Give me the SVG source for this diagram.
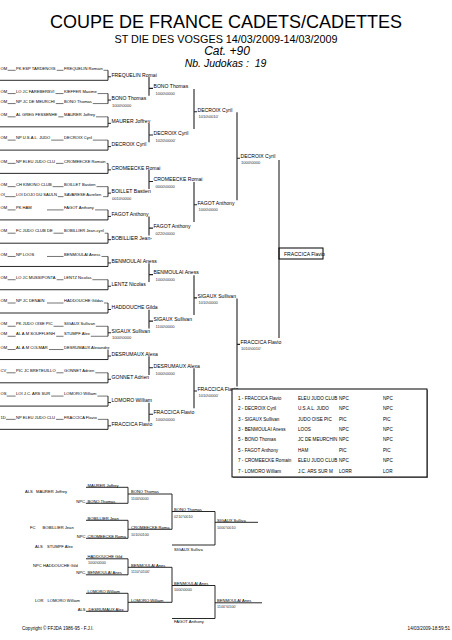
<svg xmlns="http://www.w3.org/2000/svg" width="452" height="640" viewBox="0 0 452 640">
<style>
text{font-family:'Liberation Sans',Arial,sans-serif;fill:#000}
.h1{font-size:18px}
.h2{font-size:10.8px}
.h3{font-style:italic;font-size:12px}
.h4{font-style:italic;font-size:10.5px}
.e{font-size:4.1px}
.w{font-size:5.1px}
.sc{font-size:4.1px;fill:#333}
.c{font-size:4.1px}
.cs{font-size:3.8px;fill:#333}
.t{font-size:4.6px}
.f{font-size:4.6px}
.u{stroke:#000;stroke-width:.55;fill:none}
.k{stroke:#111;stroke-width:.9;fill:none}
.v{stroke:#222;stroke-width:1.1;fill:none}
.bx{stroke:#000;stroke-width:1;fill:none}
</style>
<rect width="452" height="640" fill="#fff"/>
<g id="header" text-anchor="middle">
<text class="h1" x="226" y="28">COUPE DE FRANCE CADETS/CADETTES</text>
<text class="h2" x="226" y="42.5">ST DIE DES VOSGES 14/03/2009-14/03/2009</text>
<text class="h3" x="227" y="55.3">Cat. +90</text>
<text class="h4" x="225.5" y="66.8">Nb. Judokas :&#160; 19</text>
</g>

<g id="connectors">
<g id="r1-lines">
<g transform="translate(0,68)"><path class="u" d="M7.6 2.3H15.6M56.7 2.3H63.5M103.5 2.3H108"/><path class="k" d="M0 12.3H108V2.3M108 8.8H111"/></g>
<g transform="translate(0,91.27)"><path class="u" d="M7.6 2.3H15.6M55.5 2.3H63.5M97.6 2.3H108M7.6 12.3H15.6M55.8 12.3H63.5M92.8 12.3H108"/><path class="k" d="M108 2.3V12.3M108 8.8H111"/></g>
<g transform="translate(0,114.54)"><path class="u" d="M7.6 2.3H15.6M58.3 2.3H63.5M96 2.3H108"/><path class="k" d="M0 12.3H108V2.3M108 8.8H111"/></g>
<g transform="translate(0,137.81)"><path class="u" d="M7.6 2.3H15.6M51.2 2.3H63.5M92.8 2.3H108"/><path class="k" d="M0 12.3H108V2.3M108 8.8H111"/></g>
<g transform="translate(0,161.08)"><path class="u" d="M7.6 2.3H15.6M56 2.3H63.5M106.5 2.3H108"/><path class="k" d="M0 12.3H108V2.3M108 8.8H111"/></g>
<g transform="translate(0,184.35)"><path class="u" d="M7.6 2.3H15.6M52.6 2.3H63.5M96.5 2.3H108M5.1 12.3H15.6M57.8 12.3H63.5M103.1 12.3H108"/><path class="k" d="M108 2.3V12.3M108 8.8H111"/></g>
<g transform="translate(0,207.62)"><path class="u" d="M7.6 2.3H15.6M47 2.3H63.5M95.1 2.3H108"/><path class="k" d="M0 12.3H108V2.3M108 8.8H111"/></g>
<g transform="translate(0,230.89)"><path class="u" d="M7.6 2.3H15.6M53.5 2.3H63.5M104.7 2.3H108"/><path class="k" d="M0 12.3H108V2.3M108 8.8H111"/></g>
<g transform="translate(0,254.16)"><path class="u" d="M7.6 2.3H15.6M47 2.3H63.5M101.5 2.3H108"/><path class="k" d="M0 12.3H108V2.3M108 8.8H111"/></g>
<g transform="translate(0,277.43)"><path class="u" d="M7.6 2.3H15.6M56.7 2.3H63.5M92.4 2.3H108"/><path class="k" d="M0 12.3H108V2.3M108 8.8H111"/></g>
<g transform="translate(0,300.7)"><path class="u" d="M7.6 2.3H15.6M47 2.3H63.5M104 2.3H108"/><path class="k" d="M0 12.3H108V2.3M108 8.8H111"/></g>
<g transform="translate(0,323.97)"><path class="u" d="M7.6 2.3H15.6M53.5 2.3H63.5M95.8 2.3H108M7.6 12.3H15.6M56.2 12.3H63.5M90.8 12.3H108"/><path class="k" d="M108 2.3V12.3M108 8.8H111"/></g>
<g transform="translate(0,347.24)"><path class="u" d="M7.6 2.3H15.6M48.9 2.3H63.5"/><path class="k" d="M0 12.3H108V2.3M108 8.8H111"/></g>
<g transform="translate(0,370.51)"><path class="u" d="M6.5 2.3H15.6M56.4 2.3H63.5M95.3 2.3H108"/><path class="k" d="M0 12.3H108V2.3M108 8.8H111"/></g>
<g transform="translate(0,393.78)"><path class="u" d="M6.7 2.3H15.6M51.2 2.3H63.5M97.4 2.3H108"/><path class="k" d="M0 12.3H108V2.3M108 8.8H111"/></g>
<g transform="translate(0,417.05)"><path class="u" d="M6 2.3H15.6M56 2.3H63.5M97.8 2.3H108"/><path class="k" d="M0 12.3H108V2.3M108 8.8H111"/></g>
</g>
<path id="r2-lines" class="v" d="M149 77V95.8M149 88.4H153M149 123.5V142.3M149 135H153M149 170.1V188.9M149 181.5H153M149 216.6V235.4M149 228.1H153M149 263.2V281.9M149 274.6H153M149 309.7V328.5M149 321.1H153M149 356.2V375M149 367.7H153M149 402.8V421.6M149 414.2H153"/>
<path id="r3-lines" class="v" d="M194 89V129M194 111.7H197M194 182.1V222.1M194 204.8H197M194 275.2V315.1M194 297.9H197M194 368.3V408.2M194 391H197"/>
<path id="r4-lines" class="v" d="M237 112.2V200.3M237 158.3H240M237 298.4V386.5M237 344.4H240"/>
<path id="r5-lines" class="v" d="M279 160V338"/>
<g id="repechage-lines">
<path class="k" d="M86 487.3H128V503.3H86M128 494H172M86 520.3H128V538.3H86M128 529.3H172M172 494V529.3M172 511.5H215M172 545H215M215 511.5V545M215 522.3H258"/>
<path class="k" d="M86 558.8H128V574.8H86M128 567.3H172M86 593.3H128V611.3H86M128 602.3H172M172 567.3V602.3M172 585.5H215M172 618.5H215M215 585.5V618.5M215 602.8H262"/>
</g>
</g>

<g id="round1-entries">
<g id="slot1" transform="translate(0,68)"><text class="e" y="1.5"><tspan x="0.5">OM</tspan><tspan x="16">PK ESP TARDENOIS</tspan><tspan x="64">FREQUELIN Romain</tspan></text></g>
<g id="slot2" transform="translate(0,91.27)"><text class="e" y="1.5"><tspan x="0.5">OM</tspan><tspan x="16">LO JC FAREBERSVI</tspan><tspan x="64">KIEFFER Maxime</tspan></text><text class="e" y="11.5"><tspan x="0.5">OM</tspan><tspan x="16">NP JC DE MEURCHI</tspan><tspan x="64">BONO Thomas</tspan></text></g>
<g id="slot3" transform="translate(0,114.54)"><text class="e" y="1.5"><tspan x="0.5">OM</tspan><tspan x="16">AL GREG FESSENHE</tspan><tspan x="64">MAURER Joffrey</tspan></text></g>
<g id="slot4" transform="translate(0,137.81)"><text class="e" y="1.5"><tspan x="0.5">OM</tspan><tspan x="16">NP U.S.A.L. JUDO</tspan><tspan x="64">DECROIX Cyril</tspan></text></g>
<g id="slot5" transform="translate(0,161.08)"><text class="e" y="1.5"><tspan x="0.5">OM</tspan><tspan x="16">NP ELEU JUDO CLU</tspan><tspan x="64">CROMEECKE Romain</tspan></text></g>
<g id="slot6" transform="translate(0,184.35)"><text class="e" y="1.5"><tspan x="0.5">OM</tspan><tspan x="16">CH KIMONO CLUB</tspan><tspan x="64">BOILLET Bastien</tspan></text><text class="e" y="11.5"><tspan x="0.5">OI</tspan><tspan x="16">LOI DOJO DU SAULN</tspan><tspan x="64">SAVARESE Aurelien</tspan></text></g>
<g id="slot7" transform="translate(0,207.62)"><text class="e" y="1.5"><tspan x="0.5">OM</tspan><tspan x="16">PK HAM</tspan><tspan x="64">FAGOT Anthony</tspan></text></g>
<g id="slot8" transform="translate(0,230.89)"><text class="e" y="1.5"><tspan x="0.5">OM</tspan><tspan x="16">FC JUDO CLUB DE</tspan><tspan x="64">BOBILLIER Jean-cyril</tspan></text></g>
<g id="slot9" transform="translate(0,254.16)"><text class="e" y="1.5"><tspan x="0.5">OM</tspan><tspan x="16">NP LOOS</tspan><tspan x="64">BENMOULAI Aness</tspan></text></g>
<g id="slot10" transform="translate(0,277.43)"><text class="e" y="1.5"><tspan x="0.5">OM</tspan><tspan x="16">LO JC MUSSIPONTA</tspan><tspan x="64">LENTZ Nicolas</tspan></text></g>
<g id="slot11" transform="translate(0,300.7)"><text class="e" y="1.5"><tspan x="0.5">OM</tspan><tspan x="16">NP JC DENAIN</tspan><tspan x="64">HADDOUCHE Gildas</tspan></text></g>
<g id="slot12" transform="translate(0,323.97)"><text class="e" y="1.5"><tspan x="0.5">OM</tspan><tspan x="16">PK JUDO OISE PIC</tspan><tspan x="64">SIGAUX Sullivan</tspan></text><text class="e" y="11.5"><tspan x="0.5">OM</tspan><tspan x="16">AL A.M SOUFFLENH</tspan><tspan x="64">STUMPF Alex</tspan></text></g>
<g id="slot13" transform="translate(0,347.24)"><text class="e" y="1.5"><tspan x="0.5">OM</tspan><tspan x="16">AL A.M COLMAR</tspan><tspan x="64">DESRUMAUX Alexandre</tspan></text></g>
<g id="slot14" transform="translate(0,370.51)"><text class="e" y="1.5"><tspan x="0.5">CV</tspan><tspan x="16">PIC JC BRETEUILLO</tspan><tspan x="64">GONNET Adrien</tspan></text></g>
<g id="slot15" transform="translate(0,393.78)"><text class="e" y="1.5"><tspan x="0.5">OS</tspan><tspan x="16">LOI J.C. ARS SUR</tspan><tspan x="64">LOMORO William</tspan></text></g>
<g id="slot16" transform="translate(0,417.05)"><text class="e" y="1.5"><tspan x="0.5">1D</tspan><tspan x="16">NP ELEU JUDO CLU</tspan><tspan x="64">FRACCICA Flavio</tspan></text></g>
</g>

<g id="round1-winners">
<g id="w1-1"><text class="w" x="111.5" y="76.6">FREQUELIN Romai</text></g>
<g id="w1-2"><text class="w" x="111.5" y="99.9">BONO Thomas</text><text class="sc" x="112" y="106.6">1000\0000</text></g>
<g id="w1-3"><text class="w" x="111.5" y="123.1">MAURER Joffrey</text></g>
<g id="w1-4"><text class="w" x="111.5" y="146.4">DECROIX Cyril</text></g>
<g id="w1-5"><text class="w" x="111.5" y="169.7">CROMEECKE Romai</text></g>
<g id="w1-6"><text class="w" x="111.5" y="193">BOILLET Bastien</text><text class="sc" x="112" y="199.7">0010\0000</text></g>
<g id="w1-7"><text class="w" x="111.5" y="216.2">FAGOT Anthony</text></g>
<g id="w1-8"><text class="w" x="111.5" y="239.5">BOBILLIER Jean-</text></g>
<g id="w1-9"><text class="w" x="111.5" y="262.8">BENMOULAI Aness</text></g>
<g id="w1-10"><text class="w" x="111.5" y="286">LENTZ Nicolas</text></g>
<g id="w1-11"><text class="w" x="111.5" y="309.3">HADDOUCHE Gilda</text></g>
<g id="w1-12"><text class="w" x="111.5" y="332.6">SIGAUX Sullivan</text><text class="sc" x="112" y="339.3">1000\0000</text></g>
<g id="w1-13"><text class="w" x="111.5" y="355.8">DESRUMAUX Alexa</text></g>
<g id="w1-14"><text class="w" x="111.5" y="379.1">GONNET Adrien</text></g>
<g id="w1-15"><text class="w" x="111.5" y="402.4">LOMORO William</text></g>
<g id="w1-16"><text class="w" x="111.5" y="425.7">FRACCICA Flavio</text></g>
</g>

<g id="round2-winners">
<g id="w2-1"><text class="w" x="153.5" y="88.2">BONO Thomas</text><text class="sc" x="155.5" y="95.2">1000\0000</text></g>
<g id="w2-2"><text class="w" x="153.5" y="134.8">DECROIX Cyril</text><text class="sc" x="155.5" y="141.8">1020\0000'</text></g>
<g id="w2-3"><text class="w" x="153.5" y="181.3">CROMEECKE Romai</text><text class="sc" x="155.5" y="188.3">0000\0000</text></g>
<g id="w2-4"><text class="w" x="153.5" y="227.9">FAGOT Anthony</text><text class="sc" x="155.5" y="234.9">0220\0000</text></g>
<g id="w2-5"><text class="w" x="153.5" y="274.4">BENMOULAI Aness</text><text class="sc" x="155.5" y="281.4">1000\0000</text></g>
<g id="w2-6"><text class="w" x="153.5" y="320.9">SIGAUX Sullivan</text><text class="sc" x="155.5" y="327.9">1100\0000</text></g>
<g id="w2-7"><text class="w" x="153.5" y="367.5">DESRUMAUX Alexa</text><text class="sc" x="155.5" y="374.5">1000\0000</text></g>
<g id="w2-8"><text class="w" x="153.5" y="414">FRACCICA Flavio</text><text class="sc" x="155.5" y="421">1000\0000</text></g>
</g>

<g id="round3-winners">
<g id="w3-1"><text class="w" x="197.5" y="111.5">DECROIX Cyril</text><text class="sc" x="198.5" y="117.7">1010\0010'</text></g>
<g id="w3-2"><text class="w" x="197.5" y="204.6">FAGOT Anthony</text><text class="sc" x="198.5" y="210.8">1000\0000</text></g>
<g id="w3-3"><text class="w" x="197.5" y="297.7">SIGAUX Sullivan</text><text class="sc" x="198.5" y="303.9">1010\0000</text></g>
<g id="w3-4"><text class="w" x="197.5" y="390.8">FRACCICA Flavio</text><text class="sc" x="198.5" y="397">1010\0000'</text></g>
</g>

<g id="round4-winners">
<g id="w4-1"><text class="w" x="240.5" y="158">DECROIX Cyril</text><text class="sc" x="241" y="164.3">1000\0000</text></g>
<g id="w4-2"><text class="w" x="240.5" y="344.2">FRACCICA Flavio</text><text class="sc" x="241" y="350.4">1010\0010'</text></g>
</g>

<g id="champion">
<rect class="bx" x="279" y="248" width="44" height="11"/>
<text class="w" x="284" y="255.8">FRACCICA Flavio</text>
</g>

<g id="results">
<rect x="233" y="390" width="195" height="88" fill="#888"/>
<rect x="232" y="389" width="195" height="88" fill="#fff" stroke="#000" stroke-width="1"/>
<text class="t" y="399.7"><tspan x="238">1 - FRACCICA Flavio</tspan><tspan x="298">ELEU JUDO CLUB</tspan><tspan x="339">NPC</tspan><tspan x="383">NPC</tspan></text>
<text class="t" y="410.1"><tspan x="238">2 - DECROIX Cyril</tspan><tspan x="298">U.S.A.L. JUDO</tspan><tspan x="339">NPC</tspan><tspan x="383">NPC</tspan></text>
<text class="t" y="420.5"><tspan x="238">3 - SIGAUX Sullivan</tspan><tspan x="298">JUDO OISE PIC</tspan><tspan x="339">PIC</tspan><tspan x="383">PIC</tspan></text>
<text class="t" y="430.9"><tspan x="238">3 - BENMOULAI Aness</tspan><tspan x="298">LOOS</tspan><tspan x="339">NPC</tspan><tspan x="383">NPC</tspan></text>
<text class="t" y="441.3"><tspan x="238">5 - BONO Thomas</tspan><tspan x="298">JC DE MEURCHIN</tspan><tspan x="339">NPC</tspan><tspan x="383">NPC</tspan></text>
<text class="t" y="451.7"><tspan x="238">5 - FAGOT Anthony</tspan><tspan x="298">HAM</tspan><tspan x="339">PIC</tspan><tspan x="383">PIC</tspan></text>
<text class="t" y="462.1"><tspan x="238">7 - CROMEECKE Romain</tspan><tspan x="298">ELEU JUDO CLUB</tspan><tspan x="339">NPC</tspan><tspan x="383">NPC</tspan></text>
<text class="t" y="472.5"><tspan x="238">7 - LOMORO William</tspan><tspan x="298">J.C. ARS SUR M</tspan><tspan x="339">LORR</tspan><tspan x="383">LOR</tspan></text>
</g>

<g id="repechage">
<g id="rp-a1"><text class="c" x="87.5" y="486.5">MAURER Joffrey</text></g>
<g id="rp-a-label"><text class="c" y="493"><tspan x="25">ALS</tspan><tspan x="36">MAURER Joffrey</tspan></text></g>
<g id="rp-a2"><text class="c" x="86" y="502.5" text-anchor="end">NPC,</text><text class="c" x="87.5" y="502.5">BONO Thomas</text></g>
<g id="rp-aw"><text class="c" x="131" y="493">BONO Thomas</text><text class="cs" x="131" y="499.5">1100\0000</text></g>
<g id="rp-b1"><text class="c" x="87.5" y="519.5">BOBILLIER Jean</text></g>
<g id="rp-b-label"><text class="c" y="529"><tspan x="30">FC</tspan><tspan x="42.5">BOBILLIER Jean</tspan></text></g>
<g id="rp-b2"><text class="c" x="85.5" y="537.5" text-anchor="end">NPC</text><text class="c" x="87.5" y="537.5">CROMEECKE Roma</text></g>
<g id="rp-bw"><text class="c" x="131" y="528.5">CROMEECKE Roma</text><text class="cs" x="131" y="535.5">1010\0100</text></g>
<g id="rp-abw"><text class="c" x="174" y="510.5">BONO Thomas</text><text class="cs" x="174" y="517.5">0210'\0010</text></g>
<g id="rp-stumpf"><text class="c" y="548"><tspan x="35">ALS</tspan><tspan x="47">STUMPF Alex</tspan></text></g>
<g id="rp-sigaux"><text class="c" x="174" y="551.2">SIGAUX Sulliva</text></g>
<g id="rp-bronze1"><text class="c" x="217" y="521.5">SIGAUX Sulliva</text><text class="cs" x="217" y="528.5">1000'\0010</text></g>
<g id="rp-c1"><text class="c" x="87.5" y="558">HADDOUCHE Gild</text><text class="cs" x="88" y="564">1000\0000</text></g>
<g id="rp-c-label"><text class="c" y="566.5"><tspan x="33">NPC</tspan><tspan x="43">HADDOUCHE Gild</tspan></text></g>
<g id="rp-c2"><text class="c" x="86" y="574" text-anchor="end">NPC,</text><text class="c" x="87.5" y="574">BENMOULAI Anes</text></g>
<g id="rp-cw"><text class="c" x="131" y="566.5">BENMOULAI Anes</text><text class="cs" x="131" y="573">1110'\0100'</text></g>
<g id="rp-d1"><text class="c" x="87.5" y="592.5">LOMORO William</text></g>
<g id="rp-d-label"><text class="c" y="601.5"><tspan x="35">LOR</tspan><tspan x="47.5">LOMORO William</tspan></text></g>
<g id="rp-d2"><text class="c" x="85.5" y="610.5" text-anchor="end">ALS</text><text class="c" x="88.5" y="610.5">DESRUMAUX Alex</text></g>
<g id="rp-dw"><text class="c" x="131" y="601.5">LOMORO William</text></g>
<g id="rp-cdw"><text class="c" x="174" y="584.5">BENMOULAI Anes</text><text class="cs" x="174" y="590.5">1000\0000</text></g>
<g id="rp-fagot"><text class="c" x="174" y="622.5">FAGOT Anthony</text></g>
<g id="rp-bronze2"><text class="c" x="217" y="602">BENMOULAI Anes</text><text class="cs" x="217" y="607.5">1100'\0100'</text></g>
</g>

<g id="footer">
<text class="f" x="22" y="629.5">Copyright © FFJDA 1986-95 - F.J.I.</text>
<text class="f" x="450" y="629.5" text-anchor="end">14/03/2009-18:59:51</text>
</g>
</svg>
